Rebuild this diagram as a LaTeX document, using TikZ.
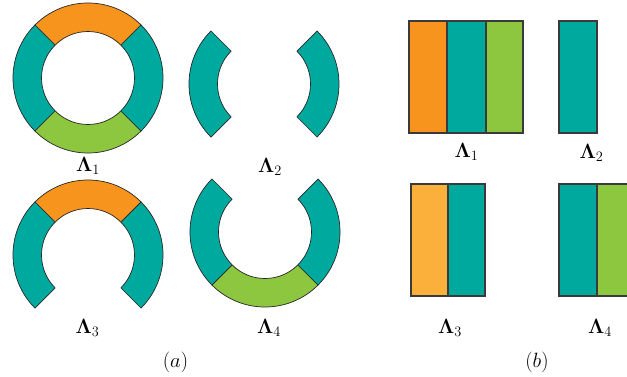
\documentclass[tikz,border=0pt]{standalone}
\usetikzlibrary{calc}
\definecolor{myorange}{HTML}{F7941D}
\definecolor{mylorange}{HTML}{FBB03B}
\definecolor{myteal}{HTML}{00A99D}
\definecolor{mygreen}{HTML}{8DC63F}
\definecolor{myline}{HTML}{262626}
\definecolor{myrline}{HTML}{3A3A3A}
\tikzset{
  segline/.style={draw=myline, line width=0.7bp, line join=round},
  barline/.style={draw=myrline, line width=1.1bp},
  lab/.style={anchor=base, inner sep=0pt, font=\fontsize{20}{24}\selectfont},
}
\newcommand{\ringseg}[4]{%
  \filldraw[fill=#4, segline] ($(#1)+(#2:75bp)$) arc[start angle=#2, end angle=#3, radius=75bp]
    -- ($(#1)+(#3:46.5bp)$) arc[start angle=#3, end angle=#2, radius=46.5bp] -- cycle;}
\newcommand{\Lb}[1]{$\mathbf{\Lambda}_{#1}$}
\begin{document}
\begin{tikzpicture}[x=1bp,y=1bp]
\useasboundingbox (0,0) rectangle (627,376);
% ring centres
\coordinate (c1) at (88,298);
\coordinate (c2) at (264,292);
\coordinate (c3) at (88,121);
\coordinate (c4) at (265,144);
% ring 1
\ringseg{c1}{45}{135}{myorange}
\ringseg{c1}{135}{225}{myteal}
\ringseg{c1}{225}{315}{mygreen}
\ringseg{c1}{-45}{45}{myteal}
% ring 2
\ringseg{c2}{135}{225}{myteal}
\ringseg{c2}{-45}{45}{myteal}
% ring 3
\ringseg{c3}{45}{135}{myorange}
\ringseg{c3}{135}{225}{myteal}
\ringseg{c3}{-45}{45}{myteal}
% ring 4
\ringseg{c4}{135}{225}{myteal}
\ringseg{c4}{225}{315}{mygreen}
\ringseg{c4}{-45}{45}{myteal}
% bars
\filldraw[fill=myorange, barline] (409,243) rectangle (447,355);
\filldraw[fill=myteal, barline] (447,243) rectangle (486,355);
\filldraw[fill=mygreen, barline] (486,243) rectangle (523,355);
\filldraw[fill=myteal, barline] (559,243) rectangle (597,355);
\filldraw[fill=mylorange, barline] (411,80) rectangle (448,192);
\filldraw[fill=myteal, barline] (448,80) rectangle (485,192);
\filldraw[fill=myteal, barline] (559,80) rectangle (597,192);
\filldraw[fill=mygreen, barline] (597,80) rectangle (640,192);
% labels
\node[lab] (la1) at (88,205) {\Lb{1}};
\node[lab] (la2) at (270,204) {\Lb{2}};
\node[lab] (la3) at (87.5,43) {\Lb{3}};
\node[lab] (la4) at (269,43) {\Lb{4}};
\node[lab] (lb1) at (466.5,219) {\Lb{1}};
\node[lab] (lb2) at (591.5,218) {\Lb{2}};
\node[lab] (lb3) at (450,43) {\Lb{3}};
\node[lab] (lb4) at (600,43) {\Lb{4}};
\node[lab] (capa) at (175.5,9) {$(a)$};
\node[lab] (capb) at (537,9) {$(b)$};
\end{tikzpicture}
\end{document}
